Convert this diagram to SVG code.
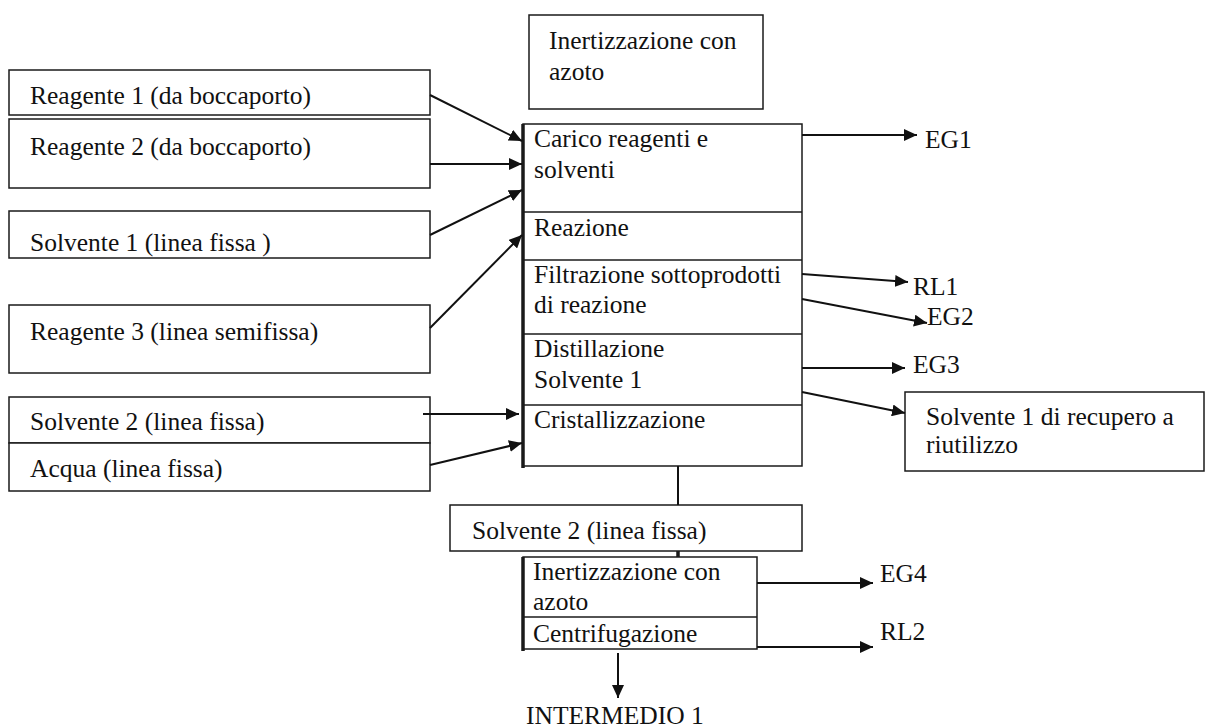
<svg xmlns="http://www.w3.org/2000/svg" width="1207" height="728" viewBox="0 0 1207 728">
<style>
  .box { fill: #ffffff; stroke: #1a1a1a; stroke-width: 1.5; }
  .div { stroke: #1a1a1a; stroke-width: 1.5; fill: none; }
  .thick { stroke: #1a1a1a; stroke-width: 3.5; fill: none; }
  .t { font-family: 'Liberation Serif', 'Times New Roman', serif; font-size: 25.5px; fill: #111111; }
  .c { stroke: #111111; stroke-width: 2; fill: none; marker-end: url(#ah); }
  .p { stroke: #111111; stroke-width: 2; fill: none; }
</style>
<defs>
  <marker id="ah" markerUnits="userSpaceOnUse" markerWidth="14" markerHeight="12" refX="13" refY="6" orient="auto">
    <path d="M0,0 L13,6 L0,12 z" fill="#111111"/>
  </marker>
</defs>
<rect width="1207" height="728" fill="#ffffff"/>

<g id="reagente1">
  <rect class="box" x="9" y="70" width="421" height="45"/>
  <text class="t" x="30" y="104">Reagente 1 (da boccaporto)</text>
</g>
<g id="reagente2">
  <rect class="box" x="9" y="119" width="421" height="69"/>
  <text class="t" x="30" y="155">Reagente 2 (da boccaporto)</text>
</g>
<g id="solvente1">
  <rect class="box" x="9" y="211" width="421" height="47"/>
  <text class="t" x="30" y="251">Solvente 1 (linea fissa )</text>
</g>
<g id="reagente3">
  <rect class="box" x="9" y="305" width="421" height="68"/>
  <text class="t" x="30" y="340">Reagente 3 (linea semifissa)</text>
</g>
<g id="solvente2">
  <rect class="box" x="9" y="397" width="421" height="46"/>
  <text class="t" x="30" y="430">Solvente 2 (linea fissa)</text>
</g>
<g id="acqua">
  <rect class="box" x="9" y="443" width="421" height="48"/>
  <text class="t" x="30" y="477">Acqua (linea fissa)</text>
</g>

<g id="inertizzazione-top">
  <rect class="box" x="529" y="15" width="234" height="94"/>
  <text class="t" x="549" y="49">Inertizzazione con</text>
  <text class="t" x="549" y="80">azoto</text>
</g>

<g id="main-process">
  <rect class="box" x="523" y="124" width="279" height="342"/>
  <line class="thick" x1="523" y1="124" x2="523" y2="468"/>
  <line class="div" x1="523" y1="212" x2="802" y2="212"/>
  <line class="div" x1="523" y1="260" x2="802" y2="260"/>
  <line class="div" x1="523" y1="334" x2="802" y2="334"/>
  <line class="div" x1="523" y1="405" x2="802" y2="405"/>
  <text class="t" x="534" y="147">Carico reagenti e</text>
  <text class="t" x="534" y="178">solventi</text>
  <text class="t" x="534" y="236">Reazione</text>
  <text class="t" x="534" y="283">Filtrazione sottoprodotti</text>
  <text class="t" x="534" y="313">di reazione</text>
  <text class="t" x="534" y="357">Distillazione</text>
  <text class="t" x="534" y="388">Solvente 1</text>
  <text class="t" x="534" y="428">Cristallizzazione</text>
</g>

<g id="solvente2-lower">
  <rect class="box" x="450" y="505" width="352" height="46"/>
  <text class="t" x="472" y="539">Solvente 2 (linea fissa)</text>
</g>

<g id="lower-process">
  <rect class="box" x="523" y="557" width="234" height="92"/>
  <line class="thick" x1="523" y1="557" x2="523" y2="651"/>
  <line class="div" x1="523" y1="617" x2="757" y2="617"/>
  <text class="t" x="533" y="580">Inertizzazione con</text>
  <text class="t" x="533" y="610">azoto</text>
  <text class="t" x="533" y="642">Centrifugazione</text>
</g>

<g id="recupero">
  <rect class="box" x="905" y="392" width="299" height="79"/>
  <text class="t" x="926" y="425">Solvente 1 di recupero a</text>
  <text class="t" x="926" y="453">riutilizzo</text>
</g>

<g id="outputs">
  <text class="t" x="925" y="148">EG1</text>
  <text class="t" x="913" y="295">RL1</text>
  <text class="t" x="927" y="325">EG2</text>
  <text class="t" x="913" y="373">EG3</text>
  <text class="t" x="880" y="582">EG4</text>
  <text class="t" x="880" y="640">RL2</text>
  <text class="t" x="526" y="724">INTERMEDIO 1</text>
</g>

<g id="connectors">
  <line class="c" x1="430" y1="95" x2="522" y2="141"/>
  <line class="c" x1="430" y1="164" x2="522" y2="164"/>
  <line class="c" x1="430" y1="235" x2="522" y2="190"/>
  <line class="c" x1="430" y1="328" x2="522" y2="235"/>
  <line class="c" x1="423" y1="414" x2="519" y2="414"/>
  <line class="c" x1="430" y1="465" x2="522" y2="443"/>
  <line class="c" x1="802" y1="135" x2="917" y2="135"/>
  <line class="c" x1="802" y1="274" x2="908" y2="282"/>
  <line class="c" x1="802" y1="299" x2="927" y2="323"/>
  <line class="c" x1="802" y1="368" x2="905" y2="368"/>
  <line class="c" x1="802" y1="392" x2="905" y2="413"/>
  <line class="p" x1="678" y1="466" x2="678" y2="505"/>
  <line class="thick" x1="678" y1="551" x2="678" y2="557"/>
  <line class="c" x1="757" y1="583" x2="873" y2="583"/>
  <line class="c" x1="757" y1="647" x2="873" y2="647"/>
  <line class="c" x1="618" y1="653" x2="618" y2="698"/>
</g>
</svg>
